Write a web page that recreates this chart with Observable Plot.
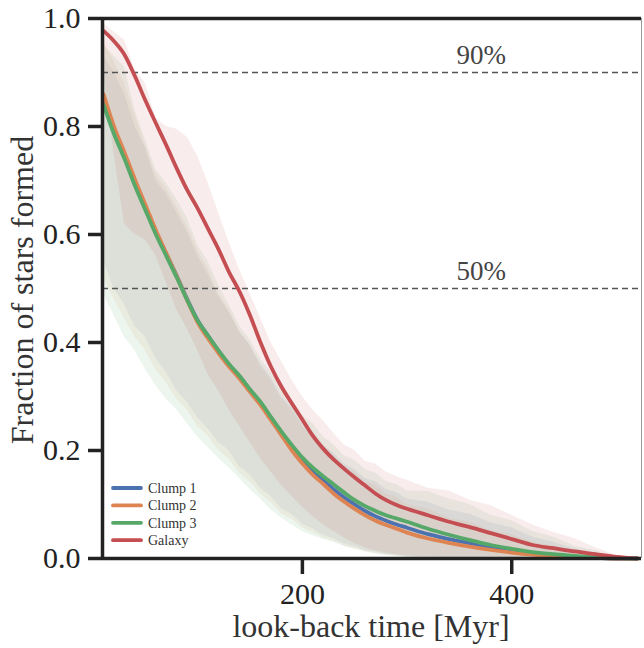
<!DOCTYPE html>
<html><head><meta charset="utf-8">
<script src="https://cdn.jsdelivr.net/npm/d3@7"></script>
<script src="https://cdn.jsdelivr.net/npm/@observablehq/plot@0.6"></script>
<style>body{margin:0;background:#fff} svg text{font-family:"Liberation Serif",serif !important}</style>
</head><body><div id="chart"></div>
<script>
// look-back time [Myr]
const time = [10,20,30,40,50,60,70,80,90,100,110,120,130,140,150,160,170,180,190,200,210,220,230,240,250,260,270,280,290,300,320,340,360,380,400,420,440,460,480,500,520];

// median curves
const clump1 = [0.85,0.793,0.746,0.697,0.651,0.605,0.564,0.523,0.48,0.441,0.412,0.384,0.358,0.337,0.312,0.288,0.26,0.233,0.206,0.182,0.162,0.145,0.128,0.113,0.1,0.088,0.078,0.07,0.063,0.057,0.045,0.036,0.028,0.02,0.014,0.009,0.006,0.003,0.001,0,0];
const clump2 = [0.86,0.80,0.752,0.702,0.655,0.608,0.565,0.522,0.478,0.437,0.407,0.38,0.355,0.333,0.308,0.284,0.256,0.228,0.2,0.176,0.155,0.138,0.12,0.105,0.092,0.08,0.07,0.062,0.055,0.048,0.037,0.029,0.022,0.016,0.011,0.007,0.004,0.002,0.001,0,0];
const clump3 = [0.84,0.786,0.74,0.69,0.645,0.60,0.56,0.52,0.478,0.44,0.412,0.385,0.36,0.338,0.313,0.29,0.262,0.235,0.21,0.187,0.168,0.152,0.137,0.122,0.108,0.097,0.088,0.08,0.074,0.068,0.055,0.044,0.034,0.025,0.018,0.012,0.008,0.005,0.002,0.001,0];
const galaxy = [0.977,0.958,0.933,0.893,0.848,0.806,0.765,0.722,0.682,0.648,0.61,0.572,0.53,0.494,0.45,0.40,0.355,0.318,0.287,0.257,0.227,0.203,0.183,0.166,0.15,0.135,0.12,0.108,0.099,0.092,0.080,0.068,0.058,0.047,0.036,0.025,0.019,0.013,0.008,0.003,0];

// scatter bands (lower / upper)
const clump1Lo = [0.55,0.5,0.47,0.43,0.41,0.37,0.345,0.31,0.29,0.26,0.24,0.215,0.2,0.17,0.155,0.13,0.115,0.092,0.082,0.064,0.055,0.043,0.037,0.027,0.022,0.015,0.012,0.008,0.006,0.003,0.001,0,0,0,0,0,0,0,0,0,0];
const clump1Hi = [0.93,0.9,0.86,0.8,0.76,0.7,0.675,0.64,0.605,0.56,0.525,0.485,0.455,0.42,0.395,0.36,0.335,0.3,0.28,0.25,0.235,0.21,0.195,0.175,0.165,0.148,0.142,0.128,0.122,0.11,0.104,0.09,0.082,0.066,0.057,0.04,0.03,0.018,0.01,0.003,0];
const clump2Lo = [0.52,0.48,0.445,0.41,0.385,0.35,0.325,0.295,0.275,0.245,0.226,0.2,0.184,0.158,0.142,0.12,0.104,0.083,0.073,0.057,0.048,0.038,0.032,0.023,0.018,0.012,0.009,0.006,0.004,0.002,0.001,0,0,0,0,0,0,0,0,0,0];
const clump2Hi = [0.96,0.92,0.88,0.82,0.765,0.71,0.685,0.65,0.615,0.57,0.535,0.49,0.46,0.42,0.395,0.355,0.33,0.295,0.275,0.245,0.23,0.205,0.19,0.17,0.16,0.142,0.135,0.12,0.114,0.1,0.092,0.075,0.067,0.052,0.044,0.03,0.023,0.012,0.007,0.002,0];
const clump3Lo = [0.49,0.45,0.41,0.385,0.35,0.32,0.295,0.275,0.25,0.225,0.205,0.185,0.168,0.148,0.128,0.11,0.09,0.075,0.062,0.05,0.042,0.035,0.03,0.022,0.017,0.013,0.009,0.006,0.004,0.002,0.001,0,0,0,0,0,0,0,0,0,0];
const clump3Hi = [0.95,0.93,0.91,0.83,0.775,0.72,0.695,0.665,0.63,0.58,0.55,0.505,0.47,0.43,0.405,0.37,0.345,0.315,0.295,0.265,0.25,0.225,0.21,0.19,0.182,0.165,0.158,0.142,0.137,0.125,0.124,0.11,0.1,0.08,0.07,0.05,0.04,0.023,0.014,0.004,0];
const galaxyLo = [0.90,0.75,0.62,0.60,0.59,0.56,0.51,0.46,0.425,0.385,0.34,0.31,0.275,0.245,0.215,0.185,0.16,0.135,0.115,0.095,0.078,0.062,0.05,0.038,0.028,0.02,0.014,0.01,0.007,0.005,0.003,0.002,0.001,0,0,0,0,0,0,0,0];
const galaxyHi = [0.99,0.975,0.96,0.905,0.88,0.815,0.80,0.795,0.78,0.745,0.695,0.64,0.585,0.535,0.49,0.445,0.40,0.365,0.33,0.30,0.275,0.255,0.232,0.21,0.2,0.18,0.175,0.16,0.152,0.145,0.13,0.125,0.108,0.098,0.08,0.062,0.048,0.037,0.02,0.006,0];

const names = ["Clump 1","Clump 2","Clump 3","Galaxy"];
const colors = ["#4c72b0","#dd8452","#55a868","#c44e52"];
const medians = [clump1, clump2, clump3, galaxy];
const lows = [clump1Lo, clump2Lo, clump3Lo, galaxyLo];
const highs = [clump1Hi, clump2Hi, clump3Hi, galaxyHi];

const refLevels = [0.9, 0.5];
const refLabels = ["90%", "50%"];
const refLabelX = 371;

const yTicks = [0, 0.2, 0.4, 0.6, 0.8, 1.0];
const xTicks = [200, 400];

const rows = names.map((n, k) => time.map((t, i) => ({t, v: medians[k][i], lo: lows[k][i], hi: highs[k][i], name: n})));

const bandOpacity = [0.09, 0.09, 0.11, 0.11];
const bandOrder = [0, 1, 2, 3];

const marks = [];
for (const k of bandOrder) {
  marks.push(Plot.areaY(rows[k], {x: "t", y1: "lo", y2: "hi", fill: colors[k], fillOpacity: bandOpacity[k], curve: "linear"}));
}
marks.push(Plot.ruleY(refLevels, {stroke: "#555", strokeWidth: 1.6, strokeDasharray: "6,4"}));
marks.push(Plot.text(refLevels.map((y, i) => ({y, label: refLabels[i]})), {x: () => refLabelX, y: "y", text: "label", lineAnchor: "bottom", dy: -9, fontSize: 27, fill: "#444"}));
for (const k of [0, 1, 2, 3]) {
  marks.push(Plot.line(rows[k], {x: "t", y: "v", stroke: colors[k], strokeWidth: 3.8, curve: "monotone-x"}));
}
marks.push(Plot.ruleY([0, 1], {stroke: "#222", strokeWidth: 3.5}));
marks.push(Plot.ruleX([9], {stroke: "#222", strokeWidth: 3.5}));
marks.push(Plot.ruleX([524], {stroke: "#999", strokeWidth: 1}));
marks.push(Plot.axisY({ticks: yTicks, tickSize: 14, tickPadding: 8, strokeWidth: 3.5, fontSize: 30, tickFormat: d => d.toFixed(1), label: null, color: "#222"}));
marks.push(Plot.axisX({ticks: xTicks, tickSize: 16, tickPadding: 8, strokeWidth: 3.5, fontSize: 30, label: null, color: "#222"}));

const chart = Plot.plot({
  width: 644, height: 648,
  marginLeft: 102, marginRight: 3, marginTop: 18, marginBottom: 90,
  x: {domain: [9, 524]},
  y: {domain: [0, 1]},
  style: {fontFamily: "Liberation Serif, serif", background: "#fff", color: "#333"},
  marks
});

const svg = d3.select(chart);
svg.style("overflow", "visible");
// axis titles
svg.append("text").attr("x", 371).attr("y", 637).attr("text-anchor", "middle")
  .attr("font-size", 32).attr("fill", "#333").text("look-back time [Myr]");
svg.append("text").attr("transform", "translate(33,290) rotate(-90)").attr("text-anchor", "middle")
  .attr("font-size", 32).attr("fill", "#333").text("Fraction of stars formed");
// legend
const lg = svg.append("g").attr("font-size", 14).attr("fill", "#333").attr("text-anchor", "start");
names.forEach((n, i) => {
  const y = 488 + i * 17.4;
  lg.append("line").attr("x1", 113).attr("x2", 141).attr("y1", y).attr("y2", y)
    .attr("stroke", colors[i]).attr("stroke-width", 3.8).attr("stroke-linecap", "round");
  lg.append("text").attr("x", 148).attr("y", y).attr("dy", "0.35em").attr("text-anchor", "start").text(n);
});
document.getElementById("chart").appendChild(chart);
</script>
</body></html>
